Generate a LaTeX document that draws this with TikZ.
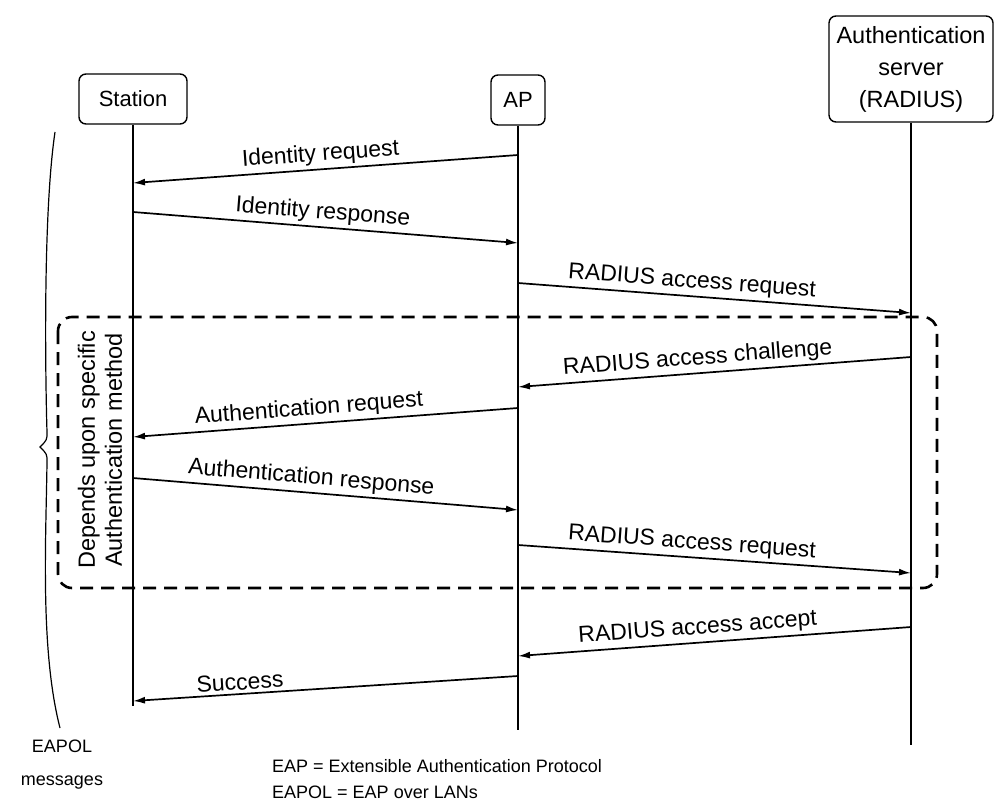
\documentclass[tikz,border=0pt]{standalone}
\usepackage{fontspec}
\setmainfont{Liberation Sans}
\usetikzlibrary{arrows.meta}
\begin{document}
\begin{tikzpicture}[x=1pt,y=1pt,
  actor/.style={draw, line width=1.4pt, rounded corners=7pt, align=center,
    font=\fontsize{22}{31}\selectfont, inner sep=0pt},
  lifeline/.style={line width=1.3pt},
  msg/.style={line width=1.7pt, -{Latex[length=12pt,width=7pt]}},
  lbl/.style={font=\fontsize{23}{26}\selectfont, sloped, above=2pt, inner sep=1pt},
  phase/.style={line width=2.6pt, dash pattern=on 13pt off 8pt, rounded corners=14pt},
  note/.style={font=\fontsize{18}{26}\selectfont, align=left, inner sep=0pt}
]
\useasboundingbox (0,0) rectangle (995,-805);

% participants
\node[actor, minimum width=108pt, minimum height=50pt] (st) at (133,-99) {Station};
\node[actor, minimum width=54pt, minimum height=50pt] (ap) at (518,-100) {AP};
\node[actor, minimum width=164pt, minimum height=106pt, font=\fontsize{23.5}{32}\selectfont]
  (as) at (911,-69) {Authentication\\server\\(RADIUS)};

% lifeline ends
\coordinate (stE) at (133,-706);
\coordinate (apE) at (518,-730);
\coordinate (asE) at (911,-745);
\draw[lifeline] (st.south) -- (stE);
\draw[lifeline] (ap.south) -- (apE);
\draw[lifeline] (as.south) -- (asE);

% message end points on the lifelines
\coordinate (a1) at (518,-155); \coordinate (s1) at (133,-183);
\coordinate (s2) at (133,-212); \coordinate (a2) at (518,-243);
\coordinate (a3) at (518,-283); \coordinate (r3) at (911,-313);
\coordinate (r4) at (911,-357); \coordinate (a4) at (518,-387);
\coordinate (a5) at (518,-408); \coordinate (s5) at (133,-437);
\coordinate (s6) at (133,-478); \coordinate (a6) at (518,-510);
\coordinate (a7) at (518,-545); \coordinate (r7) at (911,-573);
\coordinate (r8) at (911,-627); \coordinate (a8) at (518,-656);
\coordinate (a9) at (518,-676); \coordinate (s9) at (133,-701);

% messages
\draw[msg] (a1) -- node[lbl, pos=0.51] {Identity request} (s1);
\draw[msg] (s2) -- node[lbl, pos=0.49] {Identity response} (a2);
\draw[msg] (a3) -- node[lbl, pos=0.44] {RADIUS access request} (r3);
\draw[msg] (r4) -- node[lbl, pos=0.54] {RADIUS access challenge} (a4);
\draw[msg] (a5) -- node[lbl, pos=0.54] {Authentication request} (s5);
\draw[msg] (s6) -- node[lbl, pos=0.46] {Authentication response} (a6);
\draw[msg] (a7) -- node[lbl, pos=0.44] {RADIUS access request} (r7);
\draw[msg] (r8) -- node[lbl, pos=0.54] {RADIUS access accept} (a8);
\draw[msg] (a9) -- node[lbl, pos=0.72] {Success} (s9);

% method-specific exchange
\draw[phase] (58,-317) rectangle (937,-588);
\node[rotate=90, align=center, font=\fontsize{23.5}{27}\selectfont, inner sep=0pt] (dep)
  at (100,-450) {Depends upon specific\\Authentication method};

% brace spanning the EAPOL messages
\draw[line width=1.2pt] (55,-132) .. controls (42,-220) and (46,-400) .. (47,-432)
  .. controls (47,-440) .. (40,-447) .. controls (47,-454) .. (47,-462)
  .. controls (46,-540) and (40,-650) .. (60,-728);

% captions
\node[font=\fontsize{18}{33}\selectfont, align=center, inner sep=0pt] (eapol) at (62,-765) {EAPOL\\messages};
\node[note, anchor=west] (key) at (272,-779) {EAP = Extensible Authentication Protocol\\EAPOL = EAP over LANs};
\end{tikzpicture}
\end{document}
